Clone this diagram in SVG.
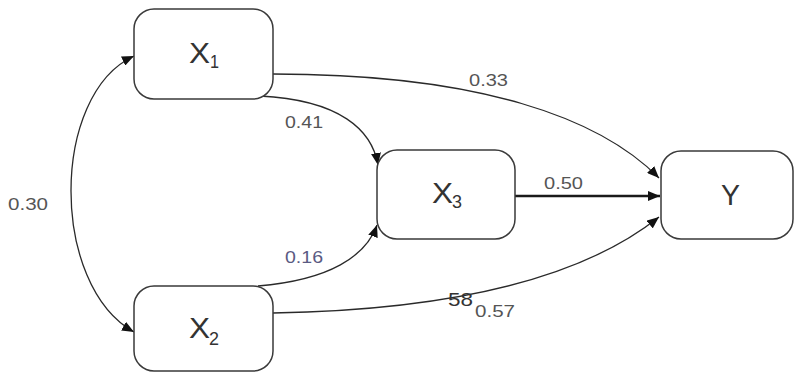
<svg xmlns="http://www.w3.org/2000/svg" width="796" height="374" viewBox="0 0 796 374">
  <style>
    .box { fill: #ffffff; stroke: #3a3a3a; stroke-width: 1.5; }
    .edge { fill: none; stroke: #2a2a2a; stroke-width: 1.3; }
    .thick { stroke: #1a1a1a; stroke-width: 2.6; }
    .name { font-family: "Liberation Sans", Arial, sans-serif; font-size: 29px; fill: #333333; }
    .sub { font-family: "Liberation Sans", Arial, sans-serif; font-size: 18px; fill: #333333; }
    .coef { font-family: "Liberation Sans", Arial, sans-serif; font-size: 16px; fill: #555555; }
  </style>
  <defs>
    <marker id="arrow" viewBox="0 0 12 10" refX="12" refY="5" markerWidth="12" markerHeight="10" markerUnits="userSpaceOnUse" orient="auto">
      <path d="M0,0 L12,5 L0,10 Z" fill="#111111"/>
    </marker>
    <marker id="arrowStart" viewBox="0 0 12 10" refX="0" refY="5" markerWidth="12" markerHeight="10" markerUnits="userSpaceOnUse" orient="auto">
      <path d="M12,0 L0,5 L12,10 Z" fill="#111111"/>
    </marker>
  </defs>

  <!-- paths between the variables -->
  <g id="connectors">
    <path class="edge" d="M134,56 C50,95 50,285 134,332" marker-start="url(#arrowStart)" marker-end="url(#arrow)"/>
    <path class="edge" d="M273,74 C480,74 600,118 659,178" marker-end="url(#arrow)"/>
    <path class="edge" d="M260,96 C340,100 372,130 378,165" marker-end="url(#arrow)"/>
    <path class="edge" d="M258,286 C330,280 366,256 377,225" marker-end="url(#arrow)"/>
    <path class="edge" d="M273,313 C450,310 580,280 659,217" marker-end="url(#arrow)"/>
    <path class="edge thick" d="M515,196 L660,196" marker-end="url(#arrow)"/>
  </g>

  <!-- path coefficients -->
  <g id="coefficients">
    <text class="coef" x="8" y="210" textLength="40" lengthAdjust="spacingAndGlyphs">0.30</text>
    <text class="coef" x="469" y="86" textLength="39" lengthAdjust="spacingAndGlyphs">0.33</text>
    <text class="coef" x="285" y="128" textLength="38" lengthAdjust="spacingAndGlyphs">0.41</text>
    <text class="coef" x="544" y="189" textLength="39" lengthAdjust="spacingAndGlyphs">0.50</text>
    <text class="coef" x="285" y="263" textLength="38" lengthAdjust="spacingAndGlyphs" style="fill:#5a5a82">0.16</text>
    <text class="coef" x="448" y="306" textLength="25" lengthAdjust="spacingAndGlyphs" style="font-size:19px;fill:#333333">58</text>
    <text class="coef" x="475" y="317" textLength="40" lengthAdjust="spacingAndGlyphs">0.57</text>
  </g>

  <g id="X1">
    <rect class="box" x="134" y="9" width="139" height="90" rx="20" ry="20"/>
    <text class="name" x="189" y="63" textLength="21" lengthAdjust="spacingAndGlyphs">X</text>
    <text class="sub" x="210" y="68" textLength="9" lengthAdjust="spacingAndGlyphs">1</text>
  </g>

  <g id="X2">
    <rect class="box" x="134" y="286" width="139" height="85" rx="20" ry="20"/>
    <text class="name" x="189" y="338" textLength="21" lengthAdjust="spacingAndGlyphs">X</text>
    <text class="sub" x="209" y="345" textLength="10" lengthAdjust="spacingAndGlyphs">2</text>
  </g>

  <g id="X3">
    <rect class="box" x="377" y="150" width="138" height="89" rx="20" ry="20"/>
    <text class="name" x="432" y="203" textLength="21" lengthAdjust="spacingAndGlyphs">X</text>
    <text class="sub" x="452" y="208" textLength="10" lengthAdjust="spacingAndGlyphs">3</text>
  </g>

  <g id="Y">
    <rect class="box" x="661" y="151" width="132" height="88" rx="20" ry="20"/>
    <text class="name" x="721" y="205" textLength="19" lengthAdjust="spacingAndGlyphs">Y</text>
  </g>
</svg>
